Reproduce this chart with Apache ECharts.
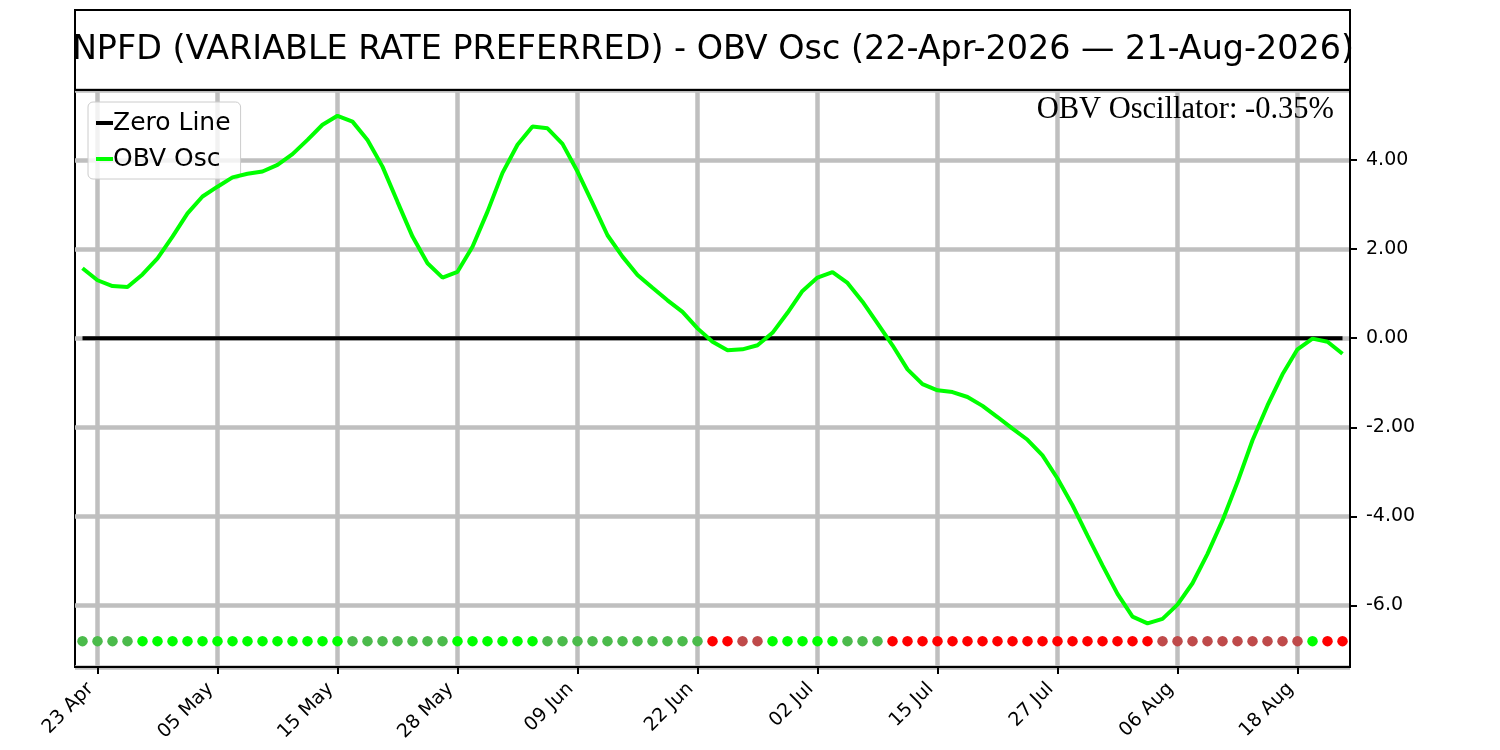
<!DOCTYPE html>
<html>
<head>
<meta charset="utf-8">
<script src="https://cdn.jsdelivr.net/npm/echarts@6/dist/echarts.min.js"></script>
<style>
  html, body { margin: 0; padding: 0; background: #fff; }
  #chart { width: 1500px; height: 750px; }
</style>
</head>
<body>
<div id="chart"></div>
<script>
// trading days shown on the x axis
const dates = [
    '2026-04-22', '2026-04-23', '2026-04-24', '2026-04-27', '2026-04-28', '2026-04-29', '2026-04-30',
    '2026-05-01', '2026-05-04', '2026-05-05', '2026-05-06', '2026-05-07', '2026-05-08', '2026-05-11',
    '2026-05-12', '2026-05-13', '2026-05-14', '2026-05-15', '2026-05-18', '2026-05-19', '2026-05-20',
    '2026-05-21', '2026-05-22', '2026-05-26', '2026-05-27', '2026-05-28', '2026-05-29', '2026-06-01',
    '2026-06-02', '2026-06-03', '2026-06-04', '2026-06-05', '2026-06-08', '2026-06-09', '2026-06-10',
    '2026-06-11', '2026-06-12', '2026-06-15', '2026-06-16', '2026-06-17', '2026-06-18', '2026-06-22',
    '2026-06-23', '2026-06-24', '2026-06-25', '2026-06-26', '2026-06-29', '2026-06-30', '2026-07-01',
    '2026-07-02', '2026-07-06', '2026-07-07', '2026-07-08', '2026-07-09', '2026-07-10', '2026-07-13',
    '2026-07-14', '2026-07-15', '2026-07-16', '2026-07-17', '2026-07-20', '2026-07-21', '2026-07-22',
    '2026-07-23', '2026-07-24', '2026-07-27', '2026-07-28', '2026-07-29', '2026-07-30', '2026-07-31',
    '2026-08-03', '2026-08-04', '2026-08-05', '2026-08-06', '2026-08-07', '2026-08-10', '2026-08-11',
    '2026-08-12', '2026-08-13', '2026-08-14', '2026-08-17', '2026-08-18', '2026-08-19', '2026-08-20',
    '2026-08-21'
];

// OBV oscillator, percent
const obvOsc = [
    1.57, 1.30, 1.17, 1.15, 1.43, 1.79, 2.28, 2.80, 3.18, 3.40,
    3.61, 3.69, 3.74, 3.89, 4.13, 4.45, 4.79, 4.99, 4.86, 4.45,
    3.85, 3.06, 2.28, 1.68, 1.36, 1.49, 2.05, 2.84, 3.71, 4.34,
    4.75, 4.71, 4.36, 3.74, 3.03, 2.31, 1.83, 1.42, 1.13, 0.85,
    0.59, 0.22, -0.08, -0.27, -0.25, -0.16, 0.12, 0.57, 1.06, 1.36,
    1.48, 1.24, 0.82, 0.33, -0.16, -0.70, -1.03, -1.17, -1.21, -1.32,
    -1.52, -1.77, -2.03, -2.28, -2.63, -3.15, -3.75, -4.43, -5.10, -5.74,
    -6.25, -6.40, -6.30, -5.98, -5.50, -4.84, -4.09, -3.23, -2.29, -1.51,
    -0.81, -0.25, -0.01, -0.08, -0.35
];

// signal dots along the bottom: G strong up, g up, R strong down, r down
const signals = [
    'g', 'g', 'g', 'g', 'G', 'G', 'G', 'G', 'G', 'G',
    'G', 'G', 'G', 'G', 'G', 'G', 'G', 'G', 'g', 'g',
    'g', 'g', 'g', 'g', 'g', 'G', 'G', 'G', 'G', 'G',
    'G', 'g', 'g', 'g', 'g', 'g', 'g', 'g', 'g', 'g',
    'g', 'g', 'R', 'R', 'r', 'r', 'G', 'G', 'G', 'G',
    'G', 'g', 'g', 'g', 'R', 'R', 'R', 'R', 'R', 'R',
    'R', 'R', 'R', 'R', 'R', 'R', 'R', 'R', 'R', 'R',
    'R', 'R', 'r', 'r', 'r', 'r', 'r', 'r', 'r', 'r',
    'r', 'r', 'G', 'R', 'R'
];
const signalLevel = -6.8;
const zeroLevel = 0;

const yTicks = [-6, -4, -2, 0, 2, 4];
const lastValue = '-0.35%';

const signalColors = { G: '#00ff00', g: '#4bbb4b', R: '#ff0000', r: '#bf4a4a' };
const months = ['Jan', 'Feb', 'Mar', 'Apr', 'May', 'Jun', 'Jul', 'Aug', 'Sep', 'Oct', 'Nov', 'Dec'];

function shortDate(s) {
    const parts = s.split('-');
    return parts[2] + ' ' + months[parseInt(parts[1]) - 1];
}

// every 8th trading day gets a label, starting from the second one
const every8 = function (index) {
    return (index - 1) % 8 === 0;
};

const chart = echarts.init(document.getElementById('chart'), null, {renderer: 'canvas'});

const font = 'DejaVu Sans';

const option = {
    animation: false,
    backgroundColor: '#ffffff',
    grid: {
        left: 75,
        right: 150,
        top: 90,
        bottom: 83,
        show: true,
        borderColor: '#000000',
        borderWidth: 2,
        backgroundColor: 'transparent'
    },
    graphic: [
        {
            type: 'rect',
            shape: {x: 75, y: 10, width: 1275, height: 80},
            style: {fill: 'none', stroke: '#000000', lineWidth: 2},
            z: 10
        },
        {
            type: 'text',
            x: 713,
            y: 50,
            style: {
                text: 'NPFD (VARIABLE RATE PREFERRED) - OBV Osc (22-Apr-2026 \u2014 21-Aug-2026)',
                font: '33.4px "DejaVu Sans"',
                fill: '#000000',
                textAlign: 'center',
                textVerticalAlign: 'middle'
            },
            z: 11
        },
        {
            type: 'text',
            x: 1334,
            y: 110,
            style: {
                text: 'OBV Oscillator: ' + lastValue,
                font: '30.5px "Liberation Serif"',
                fill: '#000000',
                textAlign: 'right',
                textVerticalAlign: 'middle'
            },
            z: 11
        }
    ],
    legend: {
        data: ['Zero Line', 'OBV Osc'],
        orient: 'vertical',
        left: 88,
        top: 102,
        padding: [8, 10, 7, 8],
        itemGap: 10,
        icon: 'rect',
        itemWidth: 17,
        itemHeight: 4,
        backgroundColor: 'rgba(255,255,255,0.8)',
        borderColor: '#cccccc',
        borderWidth: 1,
        borderRadius: 5,
        textStyle: {
            fontFamily: font,
            fontSize: 25,
            color: '#000000',
            lineHeight: 26,
            padding: [0, 0, 0, -5]
        }
    },
    xAxis: {
        type: 'category',
        data: dates,
        boundaryGap: true,
        axisLine: {show: true, onZero: false, lineStyle: {color: '#000000', width: 2}},
        axisTick: {
            show: true,
            interval: every8,
            alignWithLabel: true,
            length: 7,
            lineStyle: {color: '#000000', width: 2}
        },
        axisLabel: {
            interval: every8,
            rotate: 45,
            margin: 12,
            padding: [0, 10, 0, 0],
            fontFamily: font,
            fontSize: 19,
            color: '#000000',
            formatter: function (value) {
                return shortDate(value);
            }
        },
        splitLine: {
            show: true,
            interval: every8,
            alignWithLabel: true,
            lineStyle: {color: '#bfbfbf', width: 4.5}
        }
    },
    yAxis: {
        type: 'value',
        position: 'right',
        min: -7.38,
        max: 5.57,
        splitNumber: 6,
        minInterval: 2,
        maxInterval: 2,
        axisLine: {show: true, lineStyle: {color: '#000000', width: 2}},
        axisTick: {show: true, length: 7, lineStyle: {color: '#000000', width: 2}},
        axisLabel: {
            showMinLabel: false,
            showMaxLabel: false,
            margin: 16,
            fontFamily: font,
            fontSize: 19,
            color: '#000000',
            formatter: function (v) {
                if (yTicks.indexOf(v) < 0) return '';
                return v === -6 ? '-6.0' : v.toFixed(2);
            }
        },
        splitLine: {
            show: true,
            lineStyle: {color: '#bfbfbf', width: 4.5}
        }
    },
    series: [
        {
            name: 'Zero Line',
            type: 'line',
            data: dates.map(function () { return zeroLevel; }),
            showSymbol: false,
            symbol: 'none',
            lineStyle: {color: '#000000', width: 4},
            itemStyle: {color: '#000000'},
            z: 3
        },
        {
            name: 'OBV Osc',
            type: 'line',
            data: obvOsc,
            showSymbol: false,
            symbol: 'none',
            lineStyle: {color: '#00ff00', width: 4},
            itemStyle: {color: '#00ff00'},
            z: 4
        },
        {
            name: 'Signals',
            type: 'scatter',
            data: signals.map(function (s) {
                return {value: signalLevel, itemStyle: {color: signalColors[s], opacity: 1}};
            }),
            symbol: 'circle',
            symbolSize: 10.5,
            itemStyle: {opacity: 1},
            z: 5
        }
    ]
};

chart.setOption(option);
</script>
</body>
</html>
